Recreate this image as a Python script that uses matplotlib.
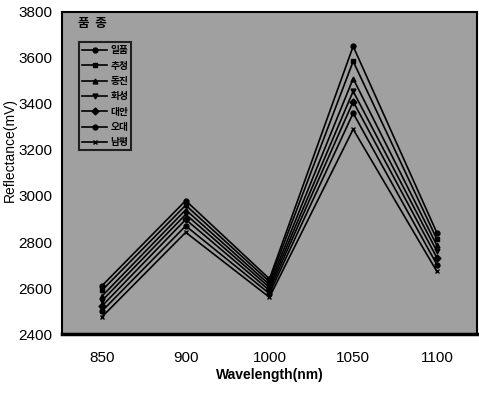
import numpy as np
import matplotlib
matplotlib.use("Agg")
import matplotlib.pyplot as plt

plt.rcParams['font.family'] = ['Liberation Sans Narrow', 'Liberation Sans', 'Noto Sans CJK KR', 'DejaVu Sans']

wavelengths = ["850", "900", "1000", "1050", "1100"]
varieties = ["일품", "추청", "동진", "화성", "대안", "오대", "남평"]

s1 = [2610, 2980, 2640, 3650, 2840]
s2 = [2590, 2960, 2628, 3585, 2812]
s3 = [2565, 2940, 2615, 3510, 2785]
s4 = [2545, 2920, 2603, 3455, 2760]
s5 = [2522, 2898, 2590, 3410, 2732]
s6 = [2500, 2870, 2576, 3360, 2702]
s7 = [2475, 2842, 2560, 3290, 2672]
series = [s1, s2, s3, s4, s5, s6, s7]
markers = ["o", "s", "^", "v", "D", "o", "x"]

fig = plt.figure(figsize=(4.79, 3.94), dpi=100)
ax = fig.add_axes([0.129, 0.152, 0.867, 0.818])
ax.set_facecolor("#a0a0a0")

x = np.arange(len(wavelengths))
for vals, name, mk in zip(series, varieties, markers):
    ax.plot(x, vals, color="black", lw=1.2, marker=mk, ms=3.5,
            mfc="black", mec="black", label=name)

ax.set_xlim(-0.48, 4.48)
ax.set_ylim(2400, 3800)
ax.set_xticks(x)
ax.set_xticklabels(wavelengths)
ax.set_yticks(np.arange(2400, 3801, 200))
ax.tick_params(length=0, labelsize=11)
ax.tick_params(axis="x", pad=12)
ax.tick_params(axis="y", pad=7)

for sp in ax.spines.values():
    sp.set_linewidth(1.5)
ax.spines["bottom"].set_linewidth(2.5)

ax.set_xlabel("Wavelength(nm)", fontsize=10, fontweight="bold",
              family=['Liberation Sans', 'DejaVu Sans'], labelpad=2)
ax.set_ylabel("Reflectance(mV)", fontsize=10,
              family=['Liberation Sans', 'DejaVu Sans'])
ax.yaxis.set_label_coords(-0.108, 0.57)

leg = ax.legend(loc="upper left", bbox_to_anchor=(0.03, 0.92), frameon=True,
                handlelength=2.6, labelspacing=0.55,
                borderpad=0.3, handletextpad=0.3,
                prop={'family': ['Noto Sans CJK KR', 'DejaVu Sans'], 'size': 7, 'weight': 'bold'})
leg.get_frame().set_facecolor("#a0a0a0")
leg.get_frame().set_edgecolor("black")
leg.get_frame().set_linewidth(1.5)
leg.get_frame().set_boxstyle("square", pad=0)
ax.text(0.04, 0.965, "품  종", transform=ax.transAxes, fontsize=9,
        fontweight="bold", va="center", family=['Noto Sans CJK KR', 'DejaVu Sans'])

fig.savefig("out.png", dpi=100)
